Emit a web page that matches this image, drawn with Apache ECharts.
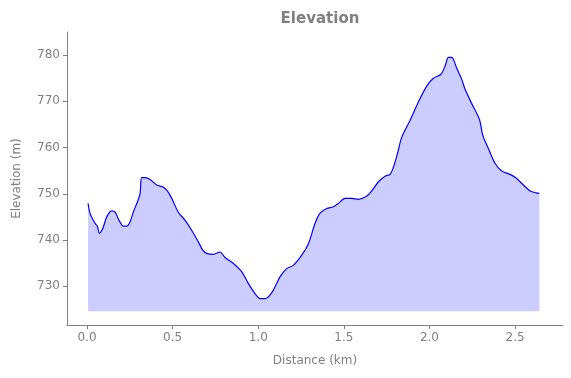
<!DOCTYPE html>
<html>
<head>
<meta charset="utf-8">
<script src="https://cdn.jsdelivr.net/npm/echarts@6/dist/echarts.min.js"></script>
<style>
  html, body { margin: 0; padding: 0; background: #fff; }
  #main { width: 571px; height: 378px; }
</style>
</head>
<body>
<div id="main"></div>
<script>
// distance (km) and elevation (m)
var distance = [
  0.006, 0.018, 0.047, 0.06, 0.072, 0.092, 0.115, 0.144, 0.164, 0.189,
  0.212, 0.232, 0.251, 0.271, 0.294, 0.31, 0.319, 0.339, 0.368, 0.407,
  0.446, 0.469, 0.495, 0.533, 0.572, 0.611, 0.65, 0.676, 0.699, 0.738,
  0.777, 0.806, 0.855, 0.904, 0.942, 0.981, 1.011, 1.04, 1.079, 1.127,
  1.166, 1.205, 1.254, 1.293, 1.332, 1.361, 1.40, 1.439, 1.468, 1.507,
  1.546, 1.585, 1.634, 1.663, 1.702, 1.741, 1.77, 1.79, 1.813, 1.838,
  1.887, 1.936, 1.984, 2.023, 2.066, 2.091, 2.111, 2.13, 2.16, 2.189,
  2.208, 2.247, 2.292, 2.311, 2.344, 2.383, 2.422, 2.471, 2.506, 2.549,
  2.588, 2.623, 2.642
];
var elevation = [
  747.9, 745.7, 743.6, 743.0, 741.5, 742.5, 745.0, 746.3, 746.0, 744.1,
  743.0, 743.0, 743.9, 746.1, 748.2, 750.1, 753.5, 753.5, 753.1, 751.9,
  751.4, 750.6, 749.0, 746.0, 744.3, 742.1, 739.6, 737.8, 737.1, 736.9,
  737.4, 736.2, 734.9, 733.1, 730.6, 728.4, 727.3, 727.3, 728.6, 732.0,
  733.8, 734.5, 736.7, 739.2, 743.6, 745.8, 746.8, 747.2, 747.9, 749.0,
  749.0, 748.8, 749.5, 750.6, 752.6, 753.8, 754.2, 755.8, 758.7, 762.2,
  765.9, 769.9, 773.3, 775.0, 775.8, 777.6, 779.5, 779.5, 777.1, 774.7,
  772.6, 769.5, 766.1, 762.7, 759.8, 756.6, 754.9, 754.2, 753.4, 751.9,
  750.6, 750.2, 750.1
];
var xTicks = [0, 0.5, 1.0, 1.5, 2.0, 2.5];
var yTicks = [730, 740, 750, 760, 770, 780];
var fillBase = 724.6;

var grey = '#808080';
var points = distance.map(function (d, i) { return [d, elevation[i]]; });

var chartDom = document.getElementById('main');
var myChart = echarts.init(chartDom);
var option;

option = {
  animation: false,
  title: {
    text: 'Elevation',
    left: 315,
    top: 7,
    textAlign: 'center',
    textStyle: { color: grey, fontSize: 15, fontWeight: 'bold', fontFamily: 'DejaVu Sans' }
  },
  grid: { left: 67, right: 8, top: 32, bottom: 53 },
  xAxis: {
    type: 'value',
    min: -0.117,
    max: 2.78,
    name: 'Distance (km)',
    nameLocation: 'middle',
    nameGap: 30,
    nameTextStyle: { color: grey, fontSize: 12, fontFamily: 'DejaVu Sans' },
    axisLine: { onZero: false, lineStyle: { color: grey } },
    axisTick: { show: true, length: 4, customValues: xTicks, lineStyle: { color: grey } },
    axisLabel: {
      customValues: xTicks,
      color: grey,
      fontSize: 12,
      fontFamily: 'DejaVu Sans',
      margin: 7,
      formatter: function (v) { return v.toFixed(1); }
    },
    splitLine: { show: false }
  },
  yAxis: {
    type: 'value',
    min: 721.6,
    max: 785,
    name: 'Elevation (m)',
    nameLocation: 'middle',
    nameGap: 44,
    nameTextStyle: { color: grey, fontSize: 12, fontFamily: 'DejaVu Sans' },
    axisLine: { show: true, onZero: false, lineStyle: { color: grey } },
    axisTick: { show: true, length: 4, customValues: yTicks, lineStyle: { color: grey } },
    axisLabel: {
      customValues: yTicks,
      color: grey,
      fontSize: 12,
      fontFamily: 'DejaVu Sans',
      margin: 7
    },
    splitLine: { show: false }
  },
  series: [
    {
      type: 'line',
      data: points,
      smooth: 0.3,
      showSymbol: false,
      lineStyle: { color: '#0000ff', width: 1.2 },
      areaStyle: { color: '#ccccff', opacity: 1, origin: fillBase }
    }
  ]
};

option && myChart.setOption(option);
</script>
</body>
</html>
